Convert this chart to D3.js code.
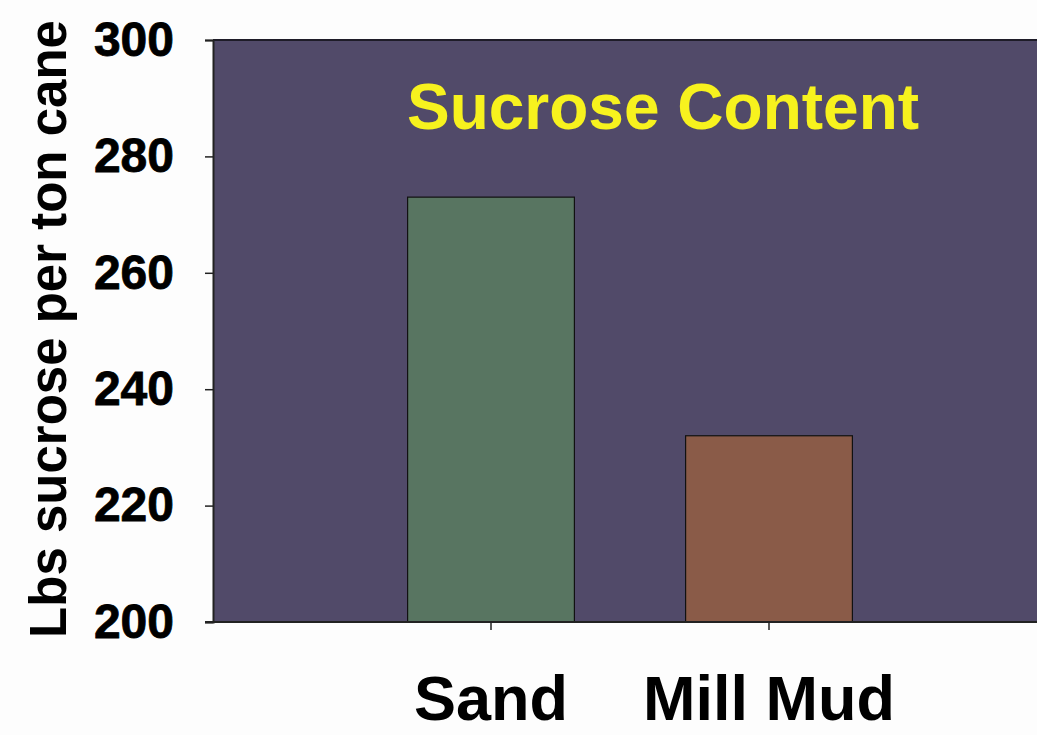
<!DOCTYPE html>
<html>
<head>
<meta charset="utf-8">
<script src="https://cdn.jsdelivr.net/npm/d3@7/dist/d3.min.js"></script>
<style>
  html, body { margin: 0; padding: 0; background: #fdfdfd; }
  svg { display: block; }
  text { font-family: "Liberation Sans", Arial, sans-serif; font-weight: bold; }
</style>
</head>
<body>
<svg id="chart" width="1037" height="735"></svg>
<script>
const categories = ["Sand", "Mill Mud"];
const values = [273, 232];
const barColors = ["#587561", "#8a5b48"];
const yTicks = [200, 220, 240, 260, 280, 300];
const title = "Sucrose Content";
const yTitle = "Lbs sucrose per ton cane";

const svg = d3.select("#chart");
const plotLeft = 213, plotRight = 1047, plotTop = 40, plotBottom = 622;

const x = d3.scaleBand().domain(categories).range([plotLeft, plotRight])
  .paddingInner(0.4).paddingOuter(0.7);
const y = d3.scaleLinear().domain([200, 300]).range([plotBottom, plotTop]);

// plot area
svg.append("rect")
  .attr("x", plotLeft).attr("y", plotTop)
  .attr("width", plotRight - plotLeft).attr("height", plotBottom - plotTop)
  .attr("fill", "#514a69");

// bars
svg.selectAll("rect.bar").data(categories).join("rect")
  .attr("class", "bar")
  .attr("x", d => x(d))
  .attr("y", (d, i) => y(values[i]))
  .attr("width", x.bandwidth())
  .attr("height", (d, i) => y(200) - y(values[i]))
  .attr("fill", (d, i) => barColors[i])
  .attr("stroke", "#111")
  .attr("stroke-width", 1.2);

// top border
svg.append("line").attr("x1", plotLeft).attr("x2", plotRight).attr("y1", plotTop).attr("y2", plotTop)
  .attr("stroke", "#1e1c28").attr("stroke-width", 2);

// y axis
const yAxis = d3.axisLeft(y).tickValues(yTicks).tickSize(8).tickPadding(31)
  .tickFormat(d3.format("d"));
const gy = svg.append("g").attr("transform", `translate(${plotLeft},0)`).call(yAxis);
gy.select(".domain").attr("stroke", "#222").attr("stroke-width", 2);
gy.selectAll(".tick line").attr("stroke", "#222").attr("stroke-width", 1.5);
gy.selectAll(".tick text").attr("font-size", 48).attr("fill", "#000")
  .style("font-family", "'Liberation Sans', Arial, sans-serif").style("font-weight", "bold")
  .attr("stroke", "#000").attr("stroke-width", 0.8);

// x axis
const xAxis = d3.axisBottom(x).tickSize(8).tickSizeOuter(0).tickPadding(45);
const gx = svg.append("g").attr("transform", `translate(0,${plotBottom})`).call(xAxis);
gx.select(".domain").attr("stroke", "#222").attr("stroke-width", 2)
  .attr("d", `M${plotLeft - 8},0H${plotRight}`);
gx.selectAll(".tick line").attr("stroke", "#222").attr("stroke-width", 1.5);
gx.selectAll(".tick text").attr("font-size", 63).attr("fill", "#000")
  .style("font-family", "'Liberation Sans', Arial, sans-serif").style("font-weight", "bold");

// title
svg.append("text")
  .attr("x", 663).attr("y", 129)
  .attr("text-anchor", "middle")
  .attr("font-size", 64)
  .attr("fill", "#f7f21e")
  .text(title);

// y title
svg.append("text")
  .attr("transform", "translate(66,329) rotate(-90)")
  .attr("text-anchor", "middle")
  .attr("font-size", 51)
  .attr("fill", "#000")
  .text(yTitle);
</script>
</body>
</html>
